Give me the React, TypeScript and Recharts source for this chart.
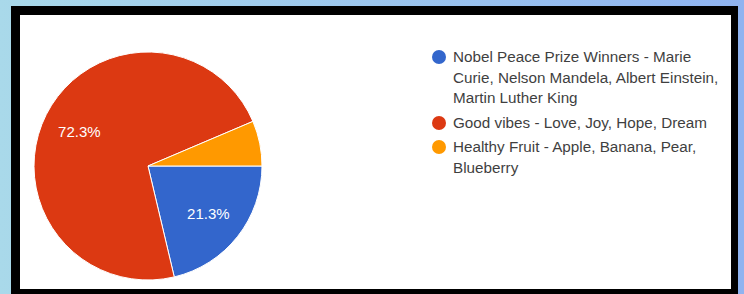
import { PieChart, Pie, Cell, Legend } from 'recharts';

const categories = [
  'Nobel Peace Prize Winners - Marie Curie, Nelson Mandela, Albert Einstein, Martin Luther King',
  'Good vibes - Love, Joy, Hope, Dream',
  'Healthy Fruit - Apple, Banana, Pear, Blueberry',
];
const shares = [21.3, 72.3, 6.4];
const sliceColors = ['#3366cc', '#dc3912', '#ff9900'];

const data = categories.map((name, i) => ({ name, value: shares[i] }));

const RADIAN = Math.PI / 180;
const FONT = 'Arial, "Liberation Sans", sans-serif';

const renderLabel = (props: any) => {
  const { cx, cy, midAngle, outerRadius, percent } = props;
  if (percent < 0.1) return null;
  const r = outerRadius * 0.675;
  const x = cx + r * Math.cos(-midAngle * RADIAN);
  const y = cy + r * Math.sin(-midAngle * RADIAN);
  return (
    <text
      x={x}
      y={y}
      fill="#ffffff"
      textAnchor="middle"
      dominantBaseline="central"
      fontSize={15}
      fontFamily={FONT}
    >
      {`${(percent * 100).toFixed(1)}%`}
    </text>
  );
};

const renderLegend = () => (
  <div style={{ fontFamily: FONT, fontSize: 15.25, color: '#3f3f3f', lineHeight: '20.5px' }}>
    {categories.map((name, i) => (
      <div key={name} style={{ display: 'flex', alignItems: 'flex-start', marginBottom: 4 }}>
        <span
          style={{
            flex: '0 0 14px',
            width: 14,
            height: 14,
            borderRadius: '50%',
            background: sliceColors[i],
            marginTop: 3,
            marginRight: 7,
          }}
        />
        <span style={{ maxWidth: 272 }}>{name}</span>
      </div>
    ))}
  </div>
);

export default function App() {
  return (
    <div
      style={{
        position: 'fixed',
        left: 0,
        top: 0,
        width: 744,
        height: 294,
        overflow: 'hidden',
        background: 'linear-gradient(to right, #a9d9ea, #8fb3f0)',
      }}
    >
      <div
        style={{
          position: 'absolute',
          left: 11,
          top: 6,
          width: 727,
          height: 300,
          background: '#000',
        }}
      />
      <div
        style={{
          position: 'absolute',
          left: 20,
          top: 15,
          width: 711,
          height: 274,
          background: '#fff',
        }}
      >
        <PieChart width={711} height={274} margin={{ top: 0, right: 0, bottom: 0, left: 0 }}>
          <Pie
            data={data}
            dataKey="value"
            nameKey="name"
            cx={128}
            cy={151}
            outerRadius={114}
            startAngle={0}
            endAngle={-360}
            stroke="#ffffff"
            strokeWidth={1}
            labelLine={false}
            label={renderLabel}
            isAnimationActive={false}
          >
            {data.map((d, i) => (
              <Cell key={d.name} fill={sliceColors[i]} />
            ))}
          </Pie>
          <Legend
            layout="vertical"
            align="right"
            verticalAlign="top"
            width={299}
            content={renderLegend}
            wrapperStyle={{ top: 32, right: 0 }}
          />
        </PieChart>
      </div>
    </div>
  );
}
